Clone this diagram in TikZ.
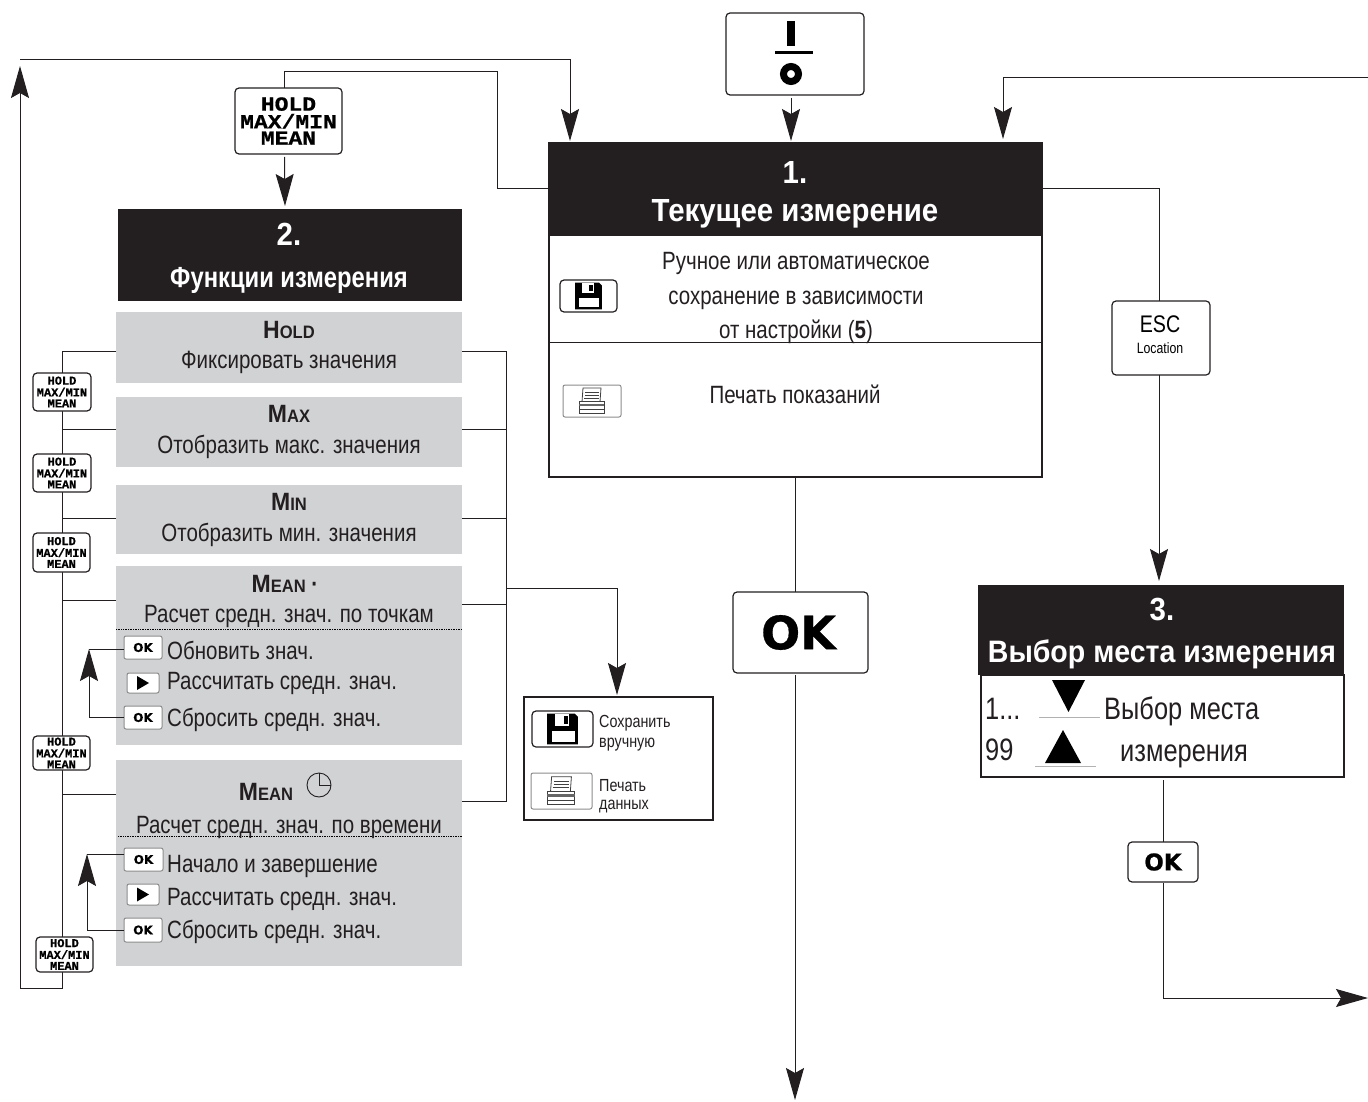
\documentclass[tikz,border=0pt]{standalone}
\usepackage{fontspec}
\setmainfont[FakeStretch=0.82]{Liberation Sans}
\newfontfamily\hdfont[FakeStretch=0.92]{Liberation Sans}
\newfontfamily\btnfont[BoldFeatures={FakeBold=0.8}]{Liberation Mono}
\newfontfamily\btnbig[FakeStretch=1.15,BoldFeatures={FakeBold=0.8}]{Liberation Mono}
\newfontfamily\okfont[BoldFeatures={FakeBold=0.6}]{DejaVu Sans}
\usetikzlibrary{arrows.meta,calc}
\definecolor{ink}{HTML}{231F20}
\definecolor{panel}{HTML}{D1D2D4}
\newcommand{\fsz}[1]{\fontsize{#1}{#1}\selectfont}
\newcommand{\bx}[7][]{%
  \pgfmathsetmacro\cxx{(#4+#6)/2}\pgfmathsetmacro\cyy{(#5+#7)/2}%
  \node[#2,inner sep=0pt,outer sep=0pt,minimum width={(#6-#4)*1pt},minimum height={(#7-#5)*1pt}] (#3) at (\cxx,\cyy) {#1};}
\newcommand{\SC}[2]{{\bfseries\hdfont\fontsize{25}{25}\selectfont #1{\fontsize{18}{18}\selectfont #2}}}
\newcommand{\holdsmall}{{\btnfont\bfseries\fontsize{12}{10.5}\selectfont\shortstack[c]{HOLD\\MAX/MIN\\MEAN}}}
\tikzset{
  x=1pt,y=-1pt,
  conn/.style={draw=ink,line width=1pt},
  arr/.style={conn,-{Stealth[length=32pt,width=18pt,inset=5pt]}},
  head/.style={fill=ink},
  panelbox/.style={fill=panel},
  frame/.style={draw=ink,line width=1.1pt},
  btn/.style={draw=ink,fill=white,line width=1.2pt,rounded corners=4pt},
  gbtn/.style={draw=black!45,fill=white,line width=1pt,rounded corners=2pt},
  txt/.style={inner sep=0pt,anchor=mid,yshift=-5pt,font=\fsz{25},text=ink},
  ltxt/.style={inner sep=0pt,anchor=mid west,yshift=-5pt,font=\fsz{25},text=ink},
  wtxt/.style={inner sep=0pt,anchor=mid,yshift=-7pt,text=white},
  floppy/.pic={
    \fill[black] (-14,-14) -- (11,-14) -- (14,-11) -- (14,14) -- (-14,14) -- cycle;
    \fill[white] (-10,2) rectangle (11,12);
    \fill[white] (-7,-14) rectangle (6,-3);
    \fill[black] (1,-12) rectangle (5,-5);
  },
  printer/.pic={
    \draw[black!75,line width=.8pt,fill=white] (-9,-13) -- (9,-13) -- (8,1) -- (-10,1) -- cycle;
    \draw[black!75,line width=.8pt] (-7,-9) -- (7,-9) (-7,-6) -- (7,-6) (-8,-3) -- (7,-3);
    \draw[black!75,line width=.8pt,fill=white] (-13,0) -- (12,0) -- (12,12) -- (-13,12) -- cycle;
    \fill[black!60] (-13,3) rectangle (12,5);
    \draw[black!75,line width=.6pt] (-13,8) -- (12,8);
  },
  playicon/.pic={\fill[black] (-6,-7) -- (6,0) -- (-6,7) -- cycle;}
}
\begin{document}
\begin{tikzpicture}
\useasboundingbox (0,0) rectangle (1368,1102);
% panels
\bx{panelbox}{pa}{116}{312}{462}{383}
\bx{panelbox}{pb}{116}{397}{462}{467}
\bx{panelbox}{pc}{116}{485}{462}{554}
\bx{panelbox}{pd}{116}{566}{462}{745}
\bx{panelbox}{pe}{116}{760}{462}{966}
\draw[black,line width=.7pt,densely dotted] (pd.west |- 0,629) coordinate (dl) -- (pd.east |- 0,629) coordinate (dr);
\draw[black,line width=.7pt,densely dotted] (118,836) coordinate (el) -- (463,836) coordinate (er);
% box frames
\bx{frame}{bodyone}{549}{235}{1042}{477}
\draw[conn] (bodyone.west |- 0,342) coordinate (sl) -- (bodyone.east |- 0,342) coordinate (sr);
\bx{frame}{bodythree}{981}{675}{1344}{777}
\bx{head}{headone}{548}{142}{1043}{235}
\bx{head}{headtwo}{118}{209}{462}{301}
\bx{head}{headthree}{978}{585}{1344}{675}
\bx{frame}{legend}{524}{697}{713}{820}
% buttons
\bx[{\btnbig\bfseries\fontsize{20}{18}\selectfont\shortstack[c]{HOLD\\MAX/MIN\\MEAN}}]{btn}{hbig}{235}{88}{342}{154}
\bx{btn}{pwr}{726}{13}{864}{95}
\bx[{\okfont\bfseries\fsz{46}\hspace*{-4pt}OK}]{btn}{okbig}{733}{592}{868}{673}
\bx[{\okfont\bfseries\fsz{23}OK}]{btn}{oksmall}{1128}{842}{1198}{882}
\bx{btn}{esc}{1112}{301}{1210}{375}
\node[inner sep=0pt,anchor=mid,yshift=-4pt,font=\fsz{24}] (esca) at (1160,326) {ESC};
\node[inner sep=0pt,anchor=mid,yshift=-4pt,font=\fsz{15}] (escb) at (1160,347) {Location};
% connectors
\draw[conn] ([xshift=-4pt]hbig.north) coordinate (ht) |- (497,72) coordinate (hr) |- (headone.west |- 0,189);
\draw[arr] ([xshift=-4pt,yshift=-3pt]hbig.south) -- ([xshift=-5pt,yshift=3pt]headtwo.north);
\draw[arr] ([yshift=-3pt]pwr.south -| 791,0) -- (791,141);
\coordinate (topl) at (20,60);
\draw[arr] (topl) -| (570,141);
\coordinate (topr) at (1368,78);
\draw[arr] (topr) -| (1003,139);
\draw[conn] (headone.east |- 0,189) -| (esc.north -| 1159,0);
\draw[arr] (esc.south -| 1159,0) -- (1159,581);
\draw[conn] (795,477) -- (okbig.north -| 795,0);
\draw[arr] ([yshift=-2pt]okbig.south -| 795,0) -- (795,1100);
\draw[conn] (1163,780) -- (oksmall.north -| 1163,0);
\coordinate (rout) at (1368,998);
\draw[arr] ([yshift=-1pt]oksmall.south -| 1163,0) |- (rout);
% right bracket
\draw[conn] (pa.east |- 0,351) -| (506,801) -- (pe.east |- 0,801);
\draw[conn] (pb.east |- 0,429) -- (506,429);
\draw[conn] (pc.east |- 0,518) -- (506,518);
\draw[conn] (pd.east |- 0,604) -- (506,604);
\draw[arr] (506,588) -| (617,695);
% left bracket
\coordinate (loopb) at (20,988);
\draw[conn] (pa.west |- 0,351) -| (62,988) -- (loopb);
\draw[arr] (loopb) -- (20,66);
\draw[conn] (pb.west |- 0,429) -- (62,429);
\draw[conn] (pc.west |- 0,518) -- (62,518);
\draw[conn] (pd.west |- 0,600) -- (62,600);
\draw[conn] (pe.west |- 0,794) -- (62,794);
% left small buttons
\bx[\holdsmall]{btn}{ha}{33}{373}{91}{411}
\bx[\holdsmall]{btn}{hb}{33}{454}{91}{492}
\bx[\holdsmall]{btn}{hc}{33}{533}{90}{572}
\bx[\holdsmall]{btn}{hd}{33}{736}{90}{770}
\bx[\holdsmall]{btn}{he}{36}{937}{93}{972}
% inner loops
\bx[{\okfont\bfseries\fsz{12}OK}]{gbtn}{oka}{124}{636}{162}{659}
\bx{gbtn}{pla}{127}{673}{159}{693}
\bx[{\okfont\bfseries\fsz{12}OK}]{gbtn}{okb}{124}{706}{162}{729}
\bx[{\okfont\bfseries\fsz{12}OK}]{gbtn}{okc}{124}{848}{163}{871}
\bx{gbtn}{plb}{127}{884}{159}{905}
\bx[{\okfont\bfseries\fsz{12}OK}]{gbtn}{okd}{124}{918}{162}{942}
\pic at (pla.center) {playicon};
\pic at (plb.center) {playicon};
\coordinate (aa) at (89,649);
\draw[conn] (oka.west |- aa) -- (aa);
\draw[arr] (okb.west) -| (aa);
\coordinate (ab) at (87,854);
\draw[conn] (okc.west |- ab) -- (ab);
\draw[arr] (okd.west) -| (ab);
% power icon
\fill[black] (787,21) rectangle (795,46);
\fill[black] (775,51) rectangle (813,54);
\draw[black,line width=7pt] (791,74) circle (7.5);
% save/print buttons
\bx{btn}{fa}{560}{280}{617}{312}
\pic[scale=.95] at (fa.center) {floppy};
\bx{gbtn}{pra}{563}{385}{621}{417}
\pic at (pra.center) {printer};
\bx{btn}{fb}{532}{711}{593}{747}
\pic[scale=1.1] at (fb.center) {floppy};
\bx{gbtn}{prb}{531}{773}{592}{809}
\pic[scale=1.1] at (prb.center) {printer};
% clock
\draw[ink,line width=.9pt] (319,785) coordinate (cc) circle (12);
\draw[ink,line width=.9pt] (319,773) -- (319,785) -- (331,785);
% header texts
\node[wtxt,font=\hdfont\bfseries\fsz{32}] (a1) at (795,174) {1.};
\node[wtxt,font=\hdfont\bfseries\fsz{32}] (a2) at (795,212) {Текущее измерение};
\node[wtxt,font=\hdfont\bfseries\fsz{32}] (b1) at (289,236) {2.};
\node[wtxt,font=\bfseries\fsz{29}] (b2) at (289,278) {Функции измерения};
\node[wtxt,font=\hdfont\bfseries\fsz{32}] (c1) at (1162,611) {3.};
\node[wtxt,font=\hdfont\bfseries\fsz{31}] (c2) at (1162,653) {Выбор места измерения};
% box 1 texts
\node[txt] (t1) at (796,262) {Ручное или автоматическое};
\node[txt] (t2) at (796,297) {сохранение в зависимости};
\node[txt] (t3) at (796,331) {от настройки (\textbf{5})};
\node[txt] (t4) at (795,396) {Печать показаний};
% legend text
\node[ltxt,yshift=3pt,font=\fsz{17.5}] (l1) at (599,723) {Сохранить};
\node[ltxt,yshift=3pt,font=\fsz{17.5}] (l2) at (599,743) {вручную};
\node[ltxt,yshift=3pt,font=\fsz{17.5}] (l3) at (599,787) {Печать};
\node[ltxt,yshift=3pt,font=\fsz{17.5}] (l4) at (599,805) {данных};
% panel texts
\node[txt] (m1) at (289,331) {\SC{H}{OLD}};
\node[txt] (m2) at (289,361) {Фиксировать значения};
\node[txt] (m3) at (289,415) {\SC{M}{AX}};
\node[txt] (m4) at (289,446) {Отобразить макс. значения};
\node[txt] (m5) at (289,503) {\SC{M}{IN}};
\node[txt] (m6) at (289,534) {Отобразить мин. значения};
\node[txt] (m7) at (285,585) {\SC{M}{EAN} \textbf{·}};
\node[txt] (m8) at (289,615) {Расчет средн. знач. по точкам};
\node[ltxt] (m9) at (167,652) {Обновить знач.};
\node[ltxt] (m10) at (167,682) {Рассчитать средн. знач.};
\node[ltxt] (m11) at (167,719) {Сбросить средн. знач.};
\node[txt] (n1) at (266,793) {\SC{M}{EAN}};
\node[txt] (n2) at (289,826) {Расчет средн. знач. по времени};
\node[ltxt] (n3) at (167,865) {Начало и завершение};
\node[ltxt] (n4) at (167,898) {Рассчитать средн. знач.};
\node[ltxt] (n5) at (167,931) {Сбросить средн. знач.};
% box 3
\node[ltxt,font=\fsz{31}] (d1) at (985,712) {1...};
\node[ltxt,font=\fsz{31}] (d2) at (985,753) {99};
\node[ltxt,font=\fsz{31}] (d3) at (1104,712) {Выбор места};
\node[ltxt,font=\fsz{31}] (d4) at (1120,754) {измерения};
\fill[black] (1052,680) -- (1085,680) -- (1068.5,712) -- cycle;
\fill[black] (1045,763) -- (1081,763) -- (1063,730) -- cycle;
\draw[black!30,line width=.6pt] (1039,717) -- (1100,717) (1035,766) -- (1096,766);
\end{tikzpicture}
\end{document}
